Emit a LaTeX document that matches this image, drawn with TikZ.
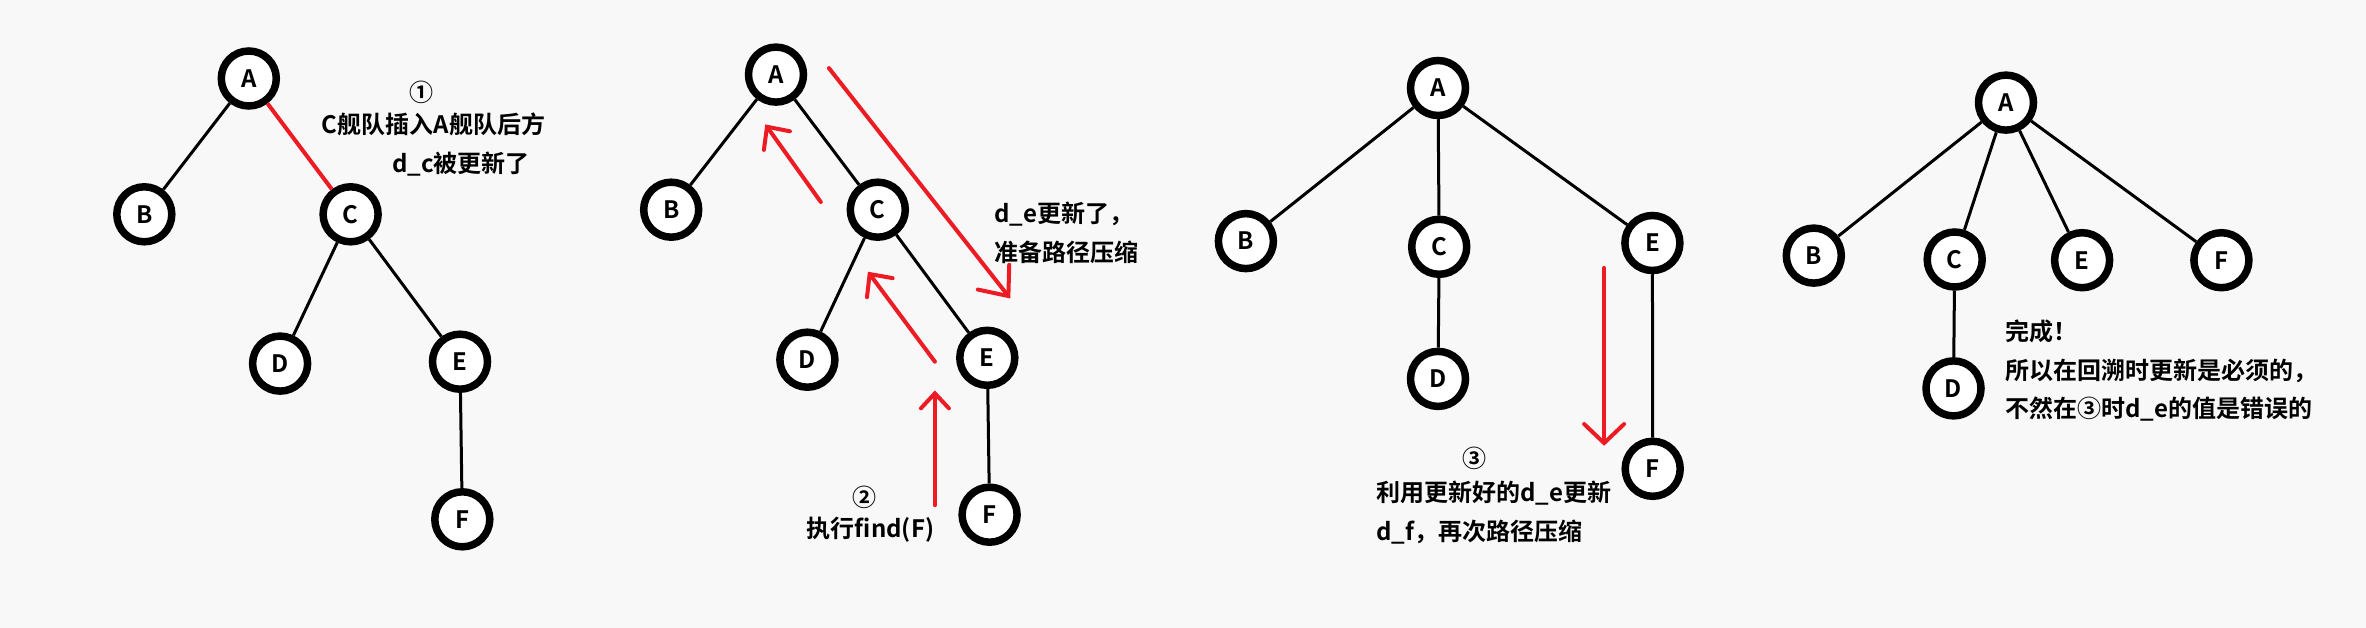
\documentclass[tikz,border=0pt]{standalone}
\usepackage{fontspec}
\setmainfont{Noto Sans CJK SC}[BoldFont={Noto Sans CJK SC Bold}]
\usepackage{tikz}
\usetikzlibrary{arrows.meta}
\definecolor{paper}{RGB}{248,248,248}
\definecolor{paintred}{RGB}{237,28,36}

\begin{document}
\begin{tikzpicture}[x=1pt,y=-1pt,
	note/.style={font=\fontsize{24}{26}\selectfont\bfseries, inner sep=0pt},
	redarrow/.style={draw=paintred, line width=4pt, line cap=round,
		-{Straight Barb[length=17pt,width=32pt,line cap=round]}}]
	\fill[paper] (0,0) rectangle (2366,628);
	\useasboundingbox (0,0) rectangle (2366,628);
	\begin{scope}[every node/.style = {circle, draw, fill=white, line width=7.5pt,
		minimum size=55pt, inner sep=0pt, font=\fontsize{24}{24}\selectfont\bfseries}]
		% panel 1
		\node (A1) at (248.8,78.5) {A};
		\node (B1) at (144.3,214.3) {B};
		\node (C1) at (350.6,214.3) {C};
		\node (D1) at (280.1,363.6) {D};
		\node (E1) at (460,361.7) {E};
		\node (F1) at (462.3,519.3) {F};
		% panel 2
		\node (A2) at (776,74.6) {A};
		\node (B2) at (671.2,209.7) {B};
		\node (C2) at (877.8,209.7) {C};
		\node (D2) at (807.4,359.7) {D};
		\node (E2) at (987.3,357.8) {E};
		\node (F2) at (989.6,514.7) {F};
		% panel 3
		\node (A3) at (1438,88) {A};
		\node (B3) at (1245.9,241.1) {B};
		\node (C3) at (1439.2,246.8) {C};
		\node (D3) at (1438,378.9) {D};
		\node (E3) at (1652.4,243) {E};
		\node (F3) at (1652.7,468.8) {F};
		% panel 4
		\node (A4) at (2006,102.6) {A};
		\node (B4) at (1813.8,255.6) {B};
		\node (C4) at (1954.7,259.5) {C};
		\node (D4) at (1953.5,388.4) {D};
		\node (E4) at (2082.1,260.2) {E};
		\node (F4) at (2221.4,260.2) {F};
	\end{scope}
	\begin{scope}[every edge/.style={draw=black, line width=3pt}]
		\path (A1) edge (B1);
		\path (A1) edge [draw=paintred, line width=4pt] (C1);
		\path (C1) edge (D1);
		\path (C1) edge (E1);
		\path (E1) edge (F1);
		\path (A2) edge (B2);
		\path (A2) edge (C2);
		\path (C2) edge (D2);
		\path (C2) edge (E2);
		\path (E2) edge (F2);
		\path (A3) edge (B3);
		\path (A3) edge (C3);
		\path (A3) edge (E3);
		\path (C3) edge (D3);
		\path (E3) edge (F3);
		\path (A4) edge (B4);
		\path (A4) edge (C4);
		\path (A4) edge (E4);
		\path (A4) edge (F4);
		\path (C4) edge (D4);
	\end{scope}
	% red arrows
	\coordinate (p1) at (820.8,202);   \coordinate (q1) at (765.3,124.4);
	\coordinate (p2) at (934.9,361.7); \coordinate (q2) at (867.9,271.7);
	\coordinate (p3) at (934.9,505.2); \coordinate (q3) at (934.9,390.4);
	\coordinate (p4) at (828.9,68.1);  \coordinate (q4) at (1010.3,298.5);
	\coordinate (p5) at (1604.1,267.9); \coordinate (q5) at (1604.1,445.8);
	\draw[redarrow] (p1) -- (q1);
	\draw[redarrow] (p2) -- (q2);
	\draw[redarrow, -{Straight Barb[length=15pt,width=28pt,line cap=round]}] (p3) -- (q3);
	\draw[redarrow, -{Straight Barb[length=24pt,width=40pt,line cap=round]}] (p4) -- (q4);
	\draw[redarrow, -{Straight Barb[length=19pt,width=40pt,line cap=round]}] (p5) -- (q5);
	% notes
	\node[note] (n1) at (421,92.6) {①};
	\node[note] (n1a) at (433.5,124.4) {C舰队插入A舰队后方};
	\node[note] (n1b) at (461,164.6) {d\_c被更新了};
	\node[note, anchor=west] (n2a) at (994,214.3) {d\_e更新了，};
	\node[note, anchor=west] (n2b) at (994,252.6) {准备路径压缩};
	\node[note] (n2) at (864,497.5) {②};
	\node[note] (n2c) at (870.5,530) {执行find(F)};
	\node[note] (n3) at (1474.8,458.5) {③};
	\node[note, anchor=west] (n3a) at (1376,492.9) {利用更新好的d\_e更新};
	\node[note, anchor=west] (n3b) at (1376,532) {d\_f，再次路径压缩};
	\node[note, anchor=west] (n4a) at (2005.2,331) {完成！};
	\node[note, anchor=west] (n4b) at (2005.2,370.4) {所以在回溯时更新是必须的，};
	\node[note, anchor=west] (n4c) at (2005.2,409.5) {不然在③时d\_e的值是错误的};
\end{tikzpicture}
\end{document}
